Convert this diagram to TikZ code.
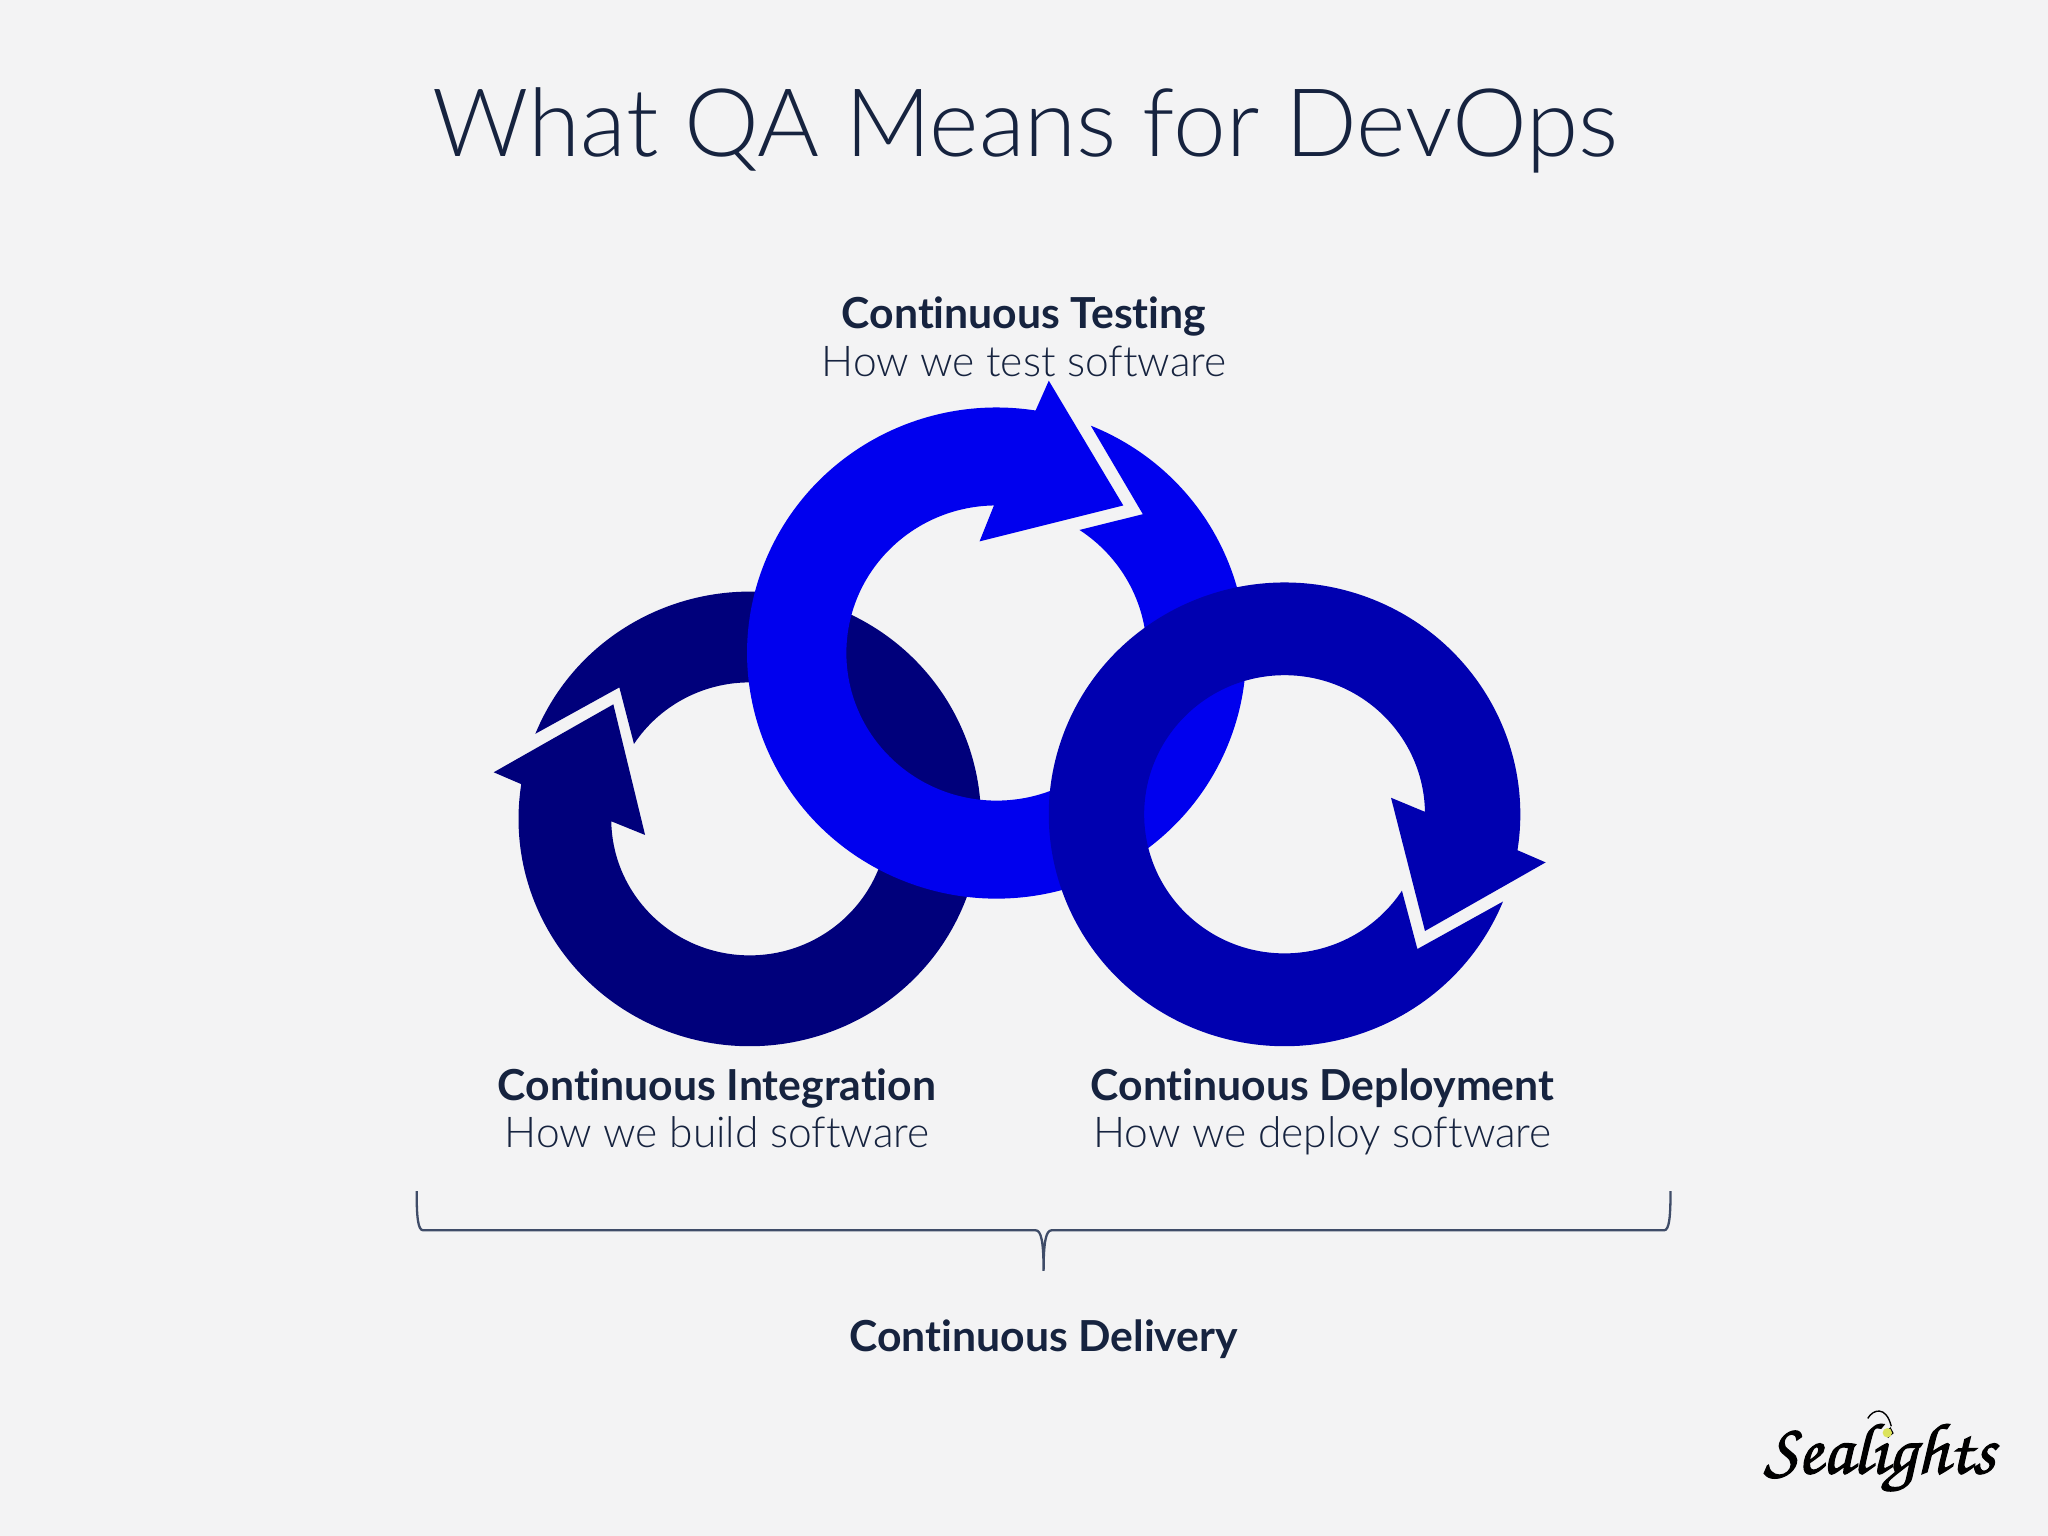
\documentclass[tikz,border=0pt]{standalone}
\usepackage{fontspec}
\setmainfont[Ligatures=NoCommon]{Lato}
\newfontfamily\lightfont[Ligatures=NoCommon]{Lato Light}
\newfontfamily\logofont[FakeBold=1.6]{TeX Gyre Chorus}
\usetikzlibrary{positioning}
\definecolor{bgcol}{HTML}{F3F3F4}
\definecolor{inkcol}{HTML}{16233F}
\definecolor{bracecol}{HTML}{3F4C68}
\definecolor{ringdark}{HTML}{00007B}
\definecolor{ringblue}{HTML}{0000EE}
\definecolor{ringmid}{HTML}{0000B0}
\definecolor{dotcol}{HTML}{DCE35B}
\tikzset{
  head/.style={text=inkcol,anchor=base,inner sep=0pt,font=\fontsize{9.3}{11}\selectfont\bfseries},
  sub/.style={text=inkcol,anchor=base,inner sep=0pt,font=\fontsize{9.25}{11}\selectfont\lightfont},
}
\begin{document}
\begin{tikzpicture}[x=0.01cm,y=0.01cm]
\fill[bgcol] (0,0) rectangle (1568,1176);
\node[text=inkcol,anchor=base,inner sep=0pt,font=\fontsize{20.6}{26}\selectfont\lightfont] (title) at (785,1056) {What QA Means for DevOps};

\fill[ringdark] (574,549) ++(158:177 and 174) arc[start angle=158,end angle=-188.8,x radius=177,y radius=174] -- (378,584.7) -- (469.6,636.7) -- (493.9,536.7) -- (468,547.2) arc[start angle=181,end angle=506.7,x radius=106,y radius=104.5] -- (474.2,649.7) -- cycle;
\fill[ringblue] (763,676) ++(67.8:191 and 188) arc[start angle=67.8,end angle=-279,x radius=191,y radius=188] -- (803,884.5) -- (860,789) -- (750,761.5) -- (761,789) arc[start angle=91,end angle=416.5,x radius=115,y radius=113] -- (875,782.3) -- cycle;
\fill[ringmid] (983.5,552.5) ++(-22.1:180.5 and 177.5) arc[start angle=-22.1,end angle=-368.9,x radius=180.5,y radius=177.5] -- (1183.4,515.7) -- (1091,463.2) -- (1065,565.2) -- (1091,554.4) arc[start angle=1,end angle=326.7,x radius=107.5,y radius=106.5] -- (1085.2,449.4) -- cycle;

\node[head] (testing) at (784,924.5) {Continuous Testing};
\node[sub] (testingsub) at (784,887.5) {How we test software};
\node[head] (integration) at (549,333.5) {Continuous Integration};
\node[sub] (integrationsub) at (549,297.5) {How we build software};
\node[head] (deployment) at (1012.5,333.5) {Continuous Deployment};
\node[sub] (deploymentsub) at (1012.5,297.5) {How we deploy software};

\draw[bracecol,line width=0.5pt] (319,264) .. controls (319,244) and (320,234) .. (324,234) -- (793,234) .. controls (797,234) and (799,226) .. (799,203) .. controls (799,226) and (801,234) .. (805,234) -- (1274,234) .. controls (1278,234) and (1279,244) .. (1279,264);
\node[head] (delivery) at (799,141.5) {Continuous Delivery};

\node[text=black,anchor=base,inner sep=0pt,font=\fontsize{15.8}{20}\selectfont\logofont] (logo) at (1439,48) {Sealights};
\draw[black,line width=0.3pt] (1430,90) .. controls (1434,97) and (1444,100) .. (1448,84);
\fill[dotcol] (1445,79) circle (3.6);
\end{tikzpicture}
\end{document}
